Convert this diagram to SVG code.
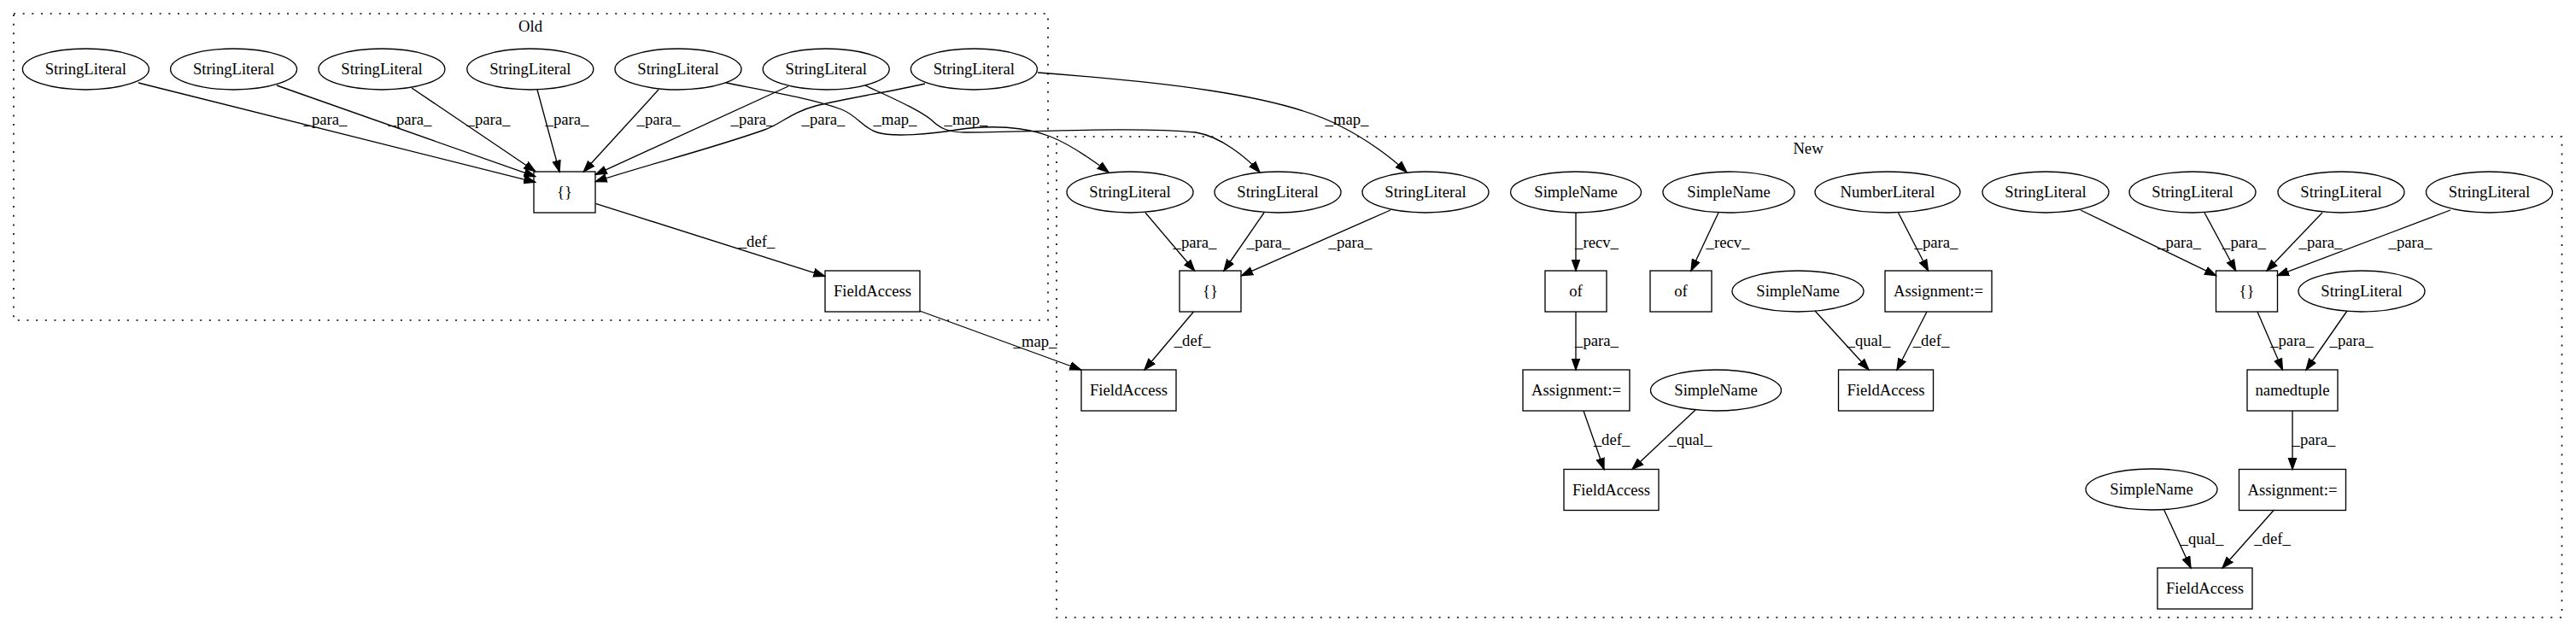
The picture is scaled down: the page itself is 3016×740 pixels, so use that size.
<svg xmlns="http://www.w3.org/2000/svg" width="3016" height="740" viewBox="0 0 3016 740">
<style>
text{font-family:"Liberation Serif","Times New Roman",serif;font-size:18.67px;fill:#000;text-anchor:middle}
.n ellipse,.n rect{fill:none;stroke:#000;stroke-width:1.33}
.cl{fill:none;stroke:#000;stroke-width:1.6;stroke-dasharray:2,8.67}
.e path{fill:none;stroke:#000;stroke-width:1.33;marker-end:url(#ah)}
</style>
<defs>
<marker id="ah" viewBox="0 -6 15 12" refX="13.3" refY="0" markerWidth="15" markerHeight="12" markerUnits="userSpaceOnUse" orient="auto">
<path d="M0,-4.67 L13.3,0 L0,4.67 z" fill="#000" stroke="#000" stroke-width="1.33"/>
</marker>
</defs>
<rect width="3016" height="740" fill="#fff"/>
<g id="cluster_old"><rect class="cl" x="16" y="16" width="1211" height="359"/><text x="621" y="37">Old</text></g>
<g id="cluster_new"><rect class="cl" x="1237" y="160" width="1762.5" height="563"/><text x="2117" y="180">New</text></g>

<g id="edges" class="e">
<path d="M162,97 L626.7,213.3"/>
<path d="M324,100 L626.7,206.7"/>
<path d="M482,103 L626.7,200.7"/>
<path d="M629,105 L655,201"/>
<path d="M771,105 L683.3,201"/>
<path d="M923,101 L697.3,204.3"/>
<path d="M1083,98 C1040,108 990,115 955,124 C925,132 915,145 895,152 C830,175 750,195 697.3,212.7"/>
<path d="M850,97 C890,105 950,115 985,128 C1005,136 1010,150 1027,155 C1045,161 1090,157 1120,152 C1160,146 1200,148 1230,160 C1255,170 1280,188 1298,201.7"/>
<path d="M1013,100 C1045,115 1075,128 1090,140 C1100,150 1110,155 1130,155 C1200,155 1330,148 1400,155 C1430,160 1460,185 1475,201.7"/>
<path d="M1215,85 C1350,95 1500,110 1570,148 C1600,163 1630,185 1647,201.7"/>
<path d="M697.3,238.3 L965.6,323.3"/>
<path d="M1076.7,364 L1265.6,433"/>
<path d="M1341,249 L1398.6,317"/>
<path d="M1480,249 L1433,317"/>
<path d="M1628,246 L1453.7,322.6"/>
<path d="M1397.5,365 L1340,433"/>
<path d="M1845,249 L1845,317"/>
<path d="M1845,365 L1845,433"/>
<path d="M2012,249 L1980,317"/>
<path d="M1854,481 L1878,549.5"/>
<path d="M1985,480 L1911,549.5"/>
<path d="M2222.5,249 L2257.5,317"/>
<path d="M2125,364 L2188,433"/>
<path d="M2256,365 L2221,433"/>
<path d="M2436,246 L2594.5,322.6"/>
<path d="M2581,249 L2617.6,317"/>
<path d="M2719,249 L2654,317"/>
<path d="M2869,246 L2666.5,322.6"/>
<path d="M2643,365 L2672.4,433"/>
<path d="M2748,364 L2700,433"/>
<path d="M2684,481 L2684,549.5"/>
<path d="M2533.7,597 L2565,665"/>
<path d="M2662.5,597 L2602,665"/>
<g id="edge_labels">
<text x="381" y="146">_para_</text>
<text x="480" y="146">_para_</text>
<text x="572" y="146">_para_</text>
<text x="664" y="146">_para_</text>
<text x="771" y="146">_para_</text>
<text x="881" y="146">_para_</text>
<text x="964" y="146">_para_</text>
<text x="1048" y="146">_map_</text>
<text x="1131" y="146">_map_</text>
<text x="1577" y="146">_map_</text>
<text x="886" y="289">_def_</text>
<text x="1212" y="406">_map_</text>
<text x="1399" y="290">_para_</text>
<text x="1485" y="290">_para_</text>
<text x="1581" y="290">_para_</text>
<text x="1396" y="405">_def_</text>
<text x="1869.5" y="290">_recv_</text>
<text x="1869.5" y="405">_para_</text>
<text x="1887" y="521">_def_</text>
<text x="1979" y="521">_qual_</text>
<text x="2023" y="290">_recv_</text>
<text x="2267" y="290">_para_</text>
<text x="2188" y="405">_qual_</text>
<text x="2261" y="405">_def_</text>
<text x="2551.5" y="290">_para_</text>
<text x="2627.5" y="290">_para_</text>
<text x="2717" y="290">_para_</text>
<text x="2822" y="290">_para_</text>
<text x="2683.6" y="405">_para_</text>
<text x="2753" y="405">_para_</text>
<text x="2709" y="521">_para_</text>
<text x="2578" y="637">_qual_</text>
<text x="2660.5" y="637">_def_</text>
</g>
</g>

<g id="o_sl1" class="n"><ellipse cx="100.4" cy="81" rx="74" ry="24"/><text x="100.4" y="87">StringLiteral</text></g>
<g id="o_sl2" class="n"><ellipse cx="273.6" cy="81" rx="74" ry="24"/><text x="273.6" y="87">StringLiteral</text></g>
<g id="o_sl3" class="n"><ellipse cx="447" cy="81" rx="74" ry="24"/><text x="447" y="87">StringLiteral</text></g>
<g id="o_sl4" class="n"><ellipse cx="620.8" cy="81" rx="74" ry="24"/><text x="620.8" y="87">StringLiteral</text></g>
<g id="o_sl5" class="n"><ellipse cx="794" cy="81" rx="74" ry="24"/><text x="794" y="87">StringLiteral</text></g>
<g id="o_sl6" class="n"><ellipse cx="967.2" cy="81" rx="74" ry="24"/><text x="967.2" y="87">StringLiteral</text></g>
<g id="o_sl7" class="n"><ellipse cx="1140.4" cy="81" rx="74" ry="24"/><text x="1140.4" y="87">StringLiteral</text></g>
<g id="o_brace" class="n"><rect x="625" y="201" width="72" height="48"/><text x="661" y="231">{}</text></g>
<g id="o_fa" class="n"><rect x="966" y="317" width="111" height="48"/><text x="1021.5" y="347">FieldAccess</text></g>

<g id="n_sl1" class="n"><ellipse cx="1323" cy="225" rx="74" ry="24"/><text x="1323" y="231">StringLiteral</text></g>
<g id="n_sl2" class="n"><ellipse cx="1496" cy="225" rx="74" ry="24"/><text x="1496" y="231">StringLiteral</text></g>
<g id="n_sl3" class="n"><ellipse cx="1669" cy="225" rx="74" ry="24"/><text x="1669" y="231">StringLiteral</text></g>
<g id="n_brace1" class="n"><rect x="1381" y="317" width="72" height="48"/><text x="1417" y="347">{}</text></g>
<g id="n_fa1" class="n"><rect x="1266" y="433" width="111" height="48"/><text x="1321.5" y="463">FieldAccess</text></g>
<g id="n_sn1" class="n"><ellipse cx="1845" cy="225" rx="76.5" ry="24"/><text x="1845" y="231">SimpleName</text></g>
<g id="n_of1" class="n"><rect x="1809" y="317" width="72" height="48"/><text x="1845" y="347">of</text></g>
<g id="n_sn2" class="n"><ellipse cx="2024" cy="225" rx="77" ry="24"/><text x="2024" y="231">SimpleName</text></g>
<g id="n_of2" class="n"><rect x="1932" y="317" width="72" height="48"/><text x="1968" y="347">of</text></g>
<g id="n_nl" class="n"><ellipse cx="2210" cy="225" rx="85" ry="24"/><text x="2210" y="231">NumberLiteral</text></g>
<g id="n_asg1" class="n"><rect x="1783" y="433" width="125" height="48"/><text x="1845.5" y="463">Assignment:=</text></g>
<g id="n_sn3" class="n"><ellipse cx="2009" cy="457" rx="76.5" ry="24"/><text x="2009" y="463">SimpleName</text></g>
<g id="n_fa2" class="n"><rect x="1831" y="549.5" width="111" height="48"/><text x="1886.5" y="579.5">FieldAccess</text></g>
<g id="n_sn4" class="n"><ellipse cx="2105" cy="341" rx="77" ry="24"/><text x="2105" y="347">SimpleName</text></g>
<g id="n_asg2" class="n"><rect x="2207" y="317" width="125" height="48"/><text x="2269.5" y="347">Assignment:=</text></g>
<g id="n_fa3" class="n"><rect x="2152.5" y="433" width="111" height="48"/><text x="2208" y="463">FieldAccess</text></g>
<g id="n_slr1" class="n"><ellipse cx="2395" cy="225" rx="74" ry="24"/><text x="2395" y="231">StringLiteral</text></g>
<g id="n_slr2" class="n"><ellipse cx="2567" cy="225" rx="74" ry="24"/><text x="2567" y="231">StringLiteral</text></g>
<g id="n_slr3" class="n"><ellipse cx="2741" cy="225" rx="74" ry="24"/><text x="2741" y="231">StringLiteral</text></g>
<g id="n_slr4" class="n"><ellipse cx="2914.5" cy="225" rx="74" ry="24"/><text x="2914.5" y="231">StringLiteral</text></g>
<g id="n_brace2" class="n"><rect x="2594.5" y="317" width="72" height="48"/><text x="2630.5" y="347">{}</text></g>
<g id="n_slr5" class="n"><ellipse cx="2765" cy="341" rx="74" ry="24"/><text x="2765" y="347">StringLiteral</text></g>
<g id="n_nt" class="n"><rect x="2631" y="433" width="106" height="48"/><text x="2684" y="463">namedtuple</text></g>
<g id="n_asg3" class="n"><rect x="2621.5" y="549.5" width="125" height="48"/><text x="2684" y="579.5">Assignment:=</text></g>
<g id="n_sn5" class="n"><ellipse cx="2519" cy="573" rx="77" ry="24"/><text x="2519" y="579">SimpleName</text></g>
<g id="n_fa4" class="n"><rect x="2526" y="665" width="111" height="48"/><text x="2581.5" y="695">FieldAccess</text></g>
</svg>
